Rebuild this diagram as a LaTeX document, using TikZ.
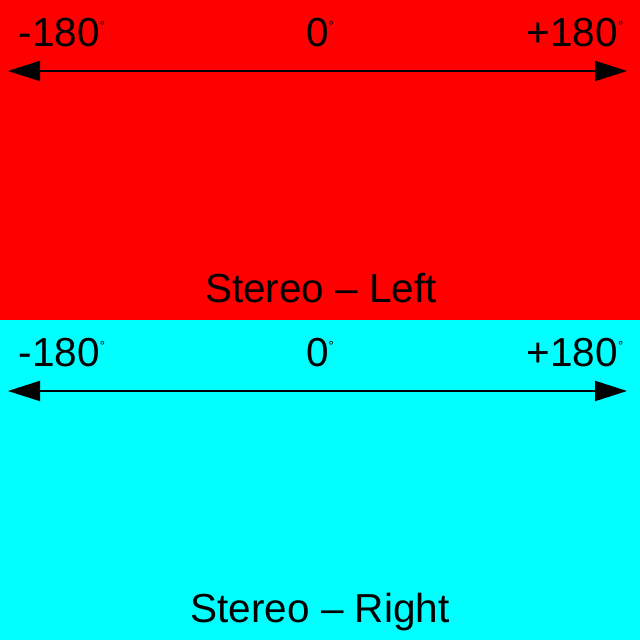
\documentclass[tikz,border=0pt]{standalone}
\usepackage{fontspec}
\setmainfont{Liberation Sans}
\usetikzlibrary{arrows.meta,positioning}
\definecolor{leftred}{RGB}{255,0,0}
\definecolor{rightcyan}{RGB}{0,255,255}
\newcommand{\degsign}{\raisebox{16pt}{\fontsize{13}{13}\selectfont °}}

\begin{document}
\begin{tikzpicture}[x=1pt,y=1pt,>={Triangle[length=32pt,width=20pt]}]
  \tikzstyle{scale label}=[anchor=base,inner sep=0pt,font=\fontsize{40.5}{40.5}\selectfont]
  \tikzstyle{axis}=[<->,line width=2pt]

  \useasboundingbox (0,0) rectangle (640,640);
  \fill[leftred] (0,320) rectangle (640,640);
  \fill[rightcyan] (0,0) rectangle (640,320);

  % left channel
  \node[scale label] (lmin) at (62,593) {-180\degsign};
  \node[scale label] (lmid) at (320,593) {0\degsign};
  \node[scale label] (lmax) at (575,593) {+180\degsign};
  \coordinate (lstart) at (8,569);
  \coordinate (lend) at (627,569);
  \draw[axis] (lstart) -- (lend);
  \node[scale label] (lname) at (321,337) {Stereo – Left};

  % right channel
  \node[scale label] (rmin) at (62,273) {-180\degsign};
  \node[scale label] (rmid) at (320,273) {0\degsign};
  \node[scale label] (rmax) at (575,273) {+180\degsign};
  \coordinate (rstart) at (8,249);
  \coordinate (rend) at (627,249);
  \draw[axis] (rstart) -- (rend);
  \node[scale label] (rname) at (320,17) {Stereo – Right};
\end{tikzpicture}
\end{document}
